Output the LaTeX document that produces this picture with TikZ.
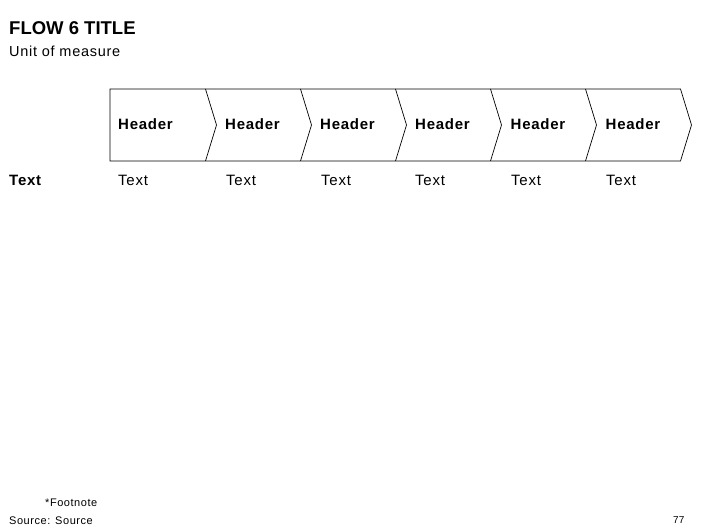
\documentclass[tikz,border=0pt]{standalone}
\usepackage{fontspec}
\setmainfont{Liberation Sans}
\newfontfamily\spaced[LetterSpace=5]{Liberation Sans}
\usepackage{tikz}
\usetikzlibrary{positioning}

\begin{document}
\begin{tikzpicture}
                [x=1pt, y=-1pt,
                 hdr/.style = {anchor=base west, inner sep=0pt, font=\spaced\fontsize{15}{18}\selectfont\bfseries},
                 txt/.style = {anchor=base west, inner sep=0pt, font=\spaced\fontsize{15}{18}\selectfont},
                 small/.style = {anchor=base west, inner sep=0pt, font=\spaced\fontsize{11}{13}\selectfont}]
                \useasboundingbox (0,0) rectangle (706,529);
                % Title
                \node[anchor=base west, inner sep=0pt, font=\fontsize{18.5}{22}\selectfont\bfseries] (title) at (9,35) {FLOW 6 TITLE};
                \node[anchor=base west, inner sep=0pt, font=\spaced\fontsize{14.5}{17}\selectfont] (unit) at (9,56.5) {Unit of measure};
                % Chevron band
                \draw[line width=0.7pt] (110,89) -- (680.5,89) -- (691.5,125) -- (680.5,161) -- (110,161) -- cycle;
                \foreach \x in {205.5,300.5,395.5,490.5,585.5}
                    \draw[line width=0.7pt] (\x,89) -- (\x+11,125) -- (\x,161);
                % Headers in the band
                \node[hdr] (h1) at (118,129.5) {Header};
                \node[hdr] (h2) at (225,129.5) {Header};
                \node[hdr] (h3) at (320,129.5) {Header};
                \node[hdr] (h4) at (415,129.5) {Header};
                \node[hdr] (h5) at (510.5,129.5) {Header};
                \node[hdr] (h6) at (605.5,129.5) {Header};
                % Row of texts
                \node[hdr] (t0) at (9,186) {Text};
                \node[txt] (t1) at (118,186) {Text};
                \node[txt] (t2) at (226,186) {Text};
                \node[txt] (t3) at (321,186) {Text};
                \node[txt] (t4) at (415,186) {Text};
                \node[txt] (t5) at (511,186) {Text};
                \node[txt] (t6) at (606,186) {Text};
                % Footer
                \node[small] (fn) at (45,506.5) {*Footnote};
                \node[small] (src) at (9,524.5) {Source: Source};
                \node[small, font=\fontsize{10}{12}\selectfont] (pg) at (673,523.5) {77};
            \end{tikzpicture}
\end{document}
